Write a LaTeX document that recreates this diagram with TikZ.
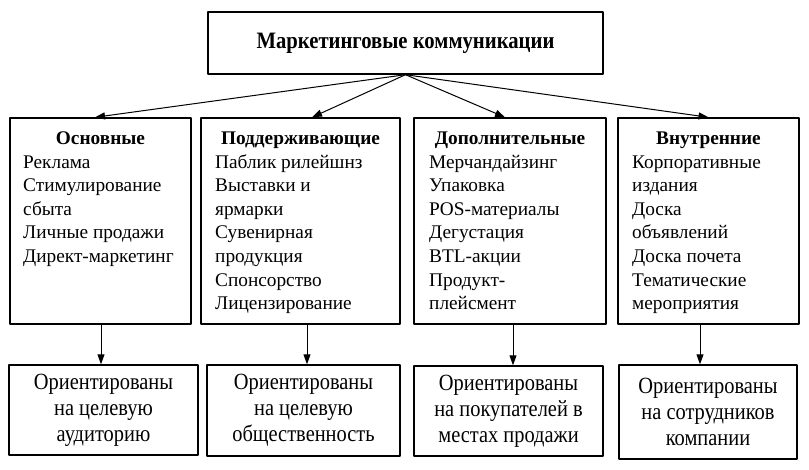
\documentclass[tikz,border=0pt]{standalone}
\usepackage{fontspec}
\setmainfont{Liberation Serif}
\newfontfamily\narrowserif{Liberation Serif}[FakeStretch=0.88]
\usetikzlibrary{arrows.meta}

\tikzset{
	box/.style={draw, line width=1.4pt, inner sep=0pt},
	head/.style={font=\fontsize{19.3}{23}\selectfont\bfseries, anchor=base, inner sep=0pt},
	item/.style={font=\fontsize{19.3}{23}\selectfont, anchor=base west, inner sep=0pt},
	goal/.style={box, align=center, font=\narrowserif\fontsize{23.2}{26}\selectfont},
	arr/.style={-{Triangle[length=10pt,width=7pt]}, line width=1pt},
}

\begin{document}
\begin{tikzpicture}[x=1pt, y=-1pt, line join=round]
	\useasboundingbox (0,0) rectangle (809,469);
	% top
	\node[box, minimum width=395pt, minimum height=62pt,
	      font=\narrowserif\fontsize{23.5}{27}\selectfont\bfseries] (top) at (405.5,43) {Маркетинговые коммуникации};
	% groups
	\node[box, minimum width=181pt, minimum height=206pt] (c1) at (100.5,221) {};
	\node[box, minimum width=199pt, minimum height=206pt] (c2) at (300.5,221) {};
	\node[box, minimum width=192pt, minimum height=206pt] (c3) at (510,221) {};
	\node[box, minimum width=181pt, minimum height=206pt] (c4) at (708.5,221) {};
	\node[head] (h1) at (100.5,144) {Основные};
	\node[head] (h2) at (300.5,144) {Поддерживающие};
	\node[head] (h3) at (510,144) {Дополнительные};
	\node[head] (h4) at (708.5,144) {Внутренние};
	\foreach \txt [count=\i from 0] in {Реклама, Стимулирование, сбыта, Личные продажи, Директ-маркетинг}
		\node[item] (c1l\i) at (23,{168+23.6*\i}) {\txt};
	\foreach \txt [count=\i from 0] in {Паблик рилейшнз, Выставки и, ярмарки, Сувенирная, продукция, Спонсорство, Лицензирование}
		\node[item] (c2l\i) at (215,{168+23.6*\i}) {\txt};
	\foreach \txt [count=\i from 0] in {Мерчандайзинг, Упаковка, POS-материалы, Дегустация, BTL-акции, Продукт-, плейсмент}
		\node[item] (c3l\i) at (429,{168+23.6*\i}) {\txt};
	\foreach \txt [count=\i from 0] in {Корпоративные, издания, Доска, объявлений, Доска почета, Тематические, мероприятия}
		\node[item] (c4l\i) at (632,{168+23.6*\i}) {\txt};
	% targets
	\node[goal, minimum width=189pt, minimum height=90pt] (b1) at (103.5,410) {Ориентированы\\на целевую\\аудиторию};
	\node[goal, minimum width=193pt, minimum height=91pt] (b2) at (303.5,410.5) {Ориентированы\\на целевую\\общественность};
	\node[goal, minimum width=189pt, minimum height=90pt] (b3) at (508.5,411) {Ориентированы\\на покупателей в\\местах продажи};
	\node[goal, minimum width=178pt, minimum height=94pt] (b4) at (708,412) {Ориентированы\\на сотрудников\\компании};
	% arrows
	\draw[arr] (top.south) -- ([xshift=-5.5pt]c1.north);
	\draw[arr] (top.south) -- ([xshift=11.5pt]c2.north);
	\draw[arr] (top.south) -- ([xshift=-5pt]c3.north);
	\draw[arr] (top.south) -- (c4.north);
	\draw[arr] ([xshift=0.5pt]c1.south) -- ([xshift=0.5pt]c1.south |- b1.north);
	\draw[arr] ([xshift=6.5pt]c2.south) -- ([xshift=6.5pt]c2.south |- b2.north);
	\draw[arr] ([xshift=3pt]c3.south) -- ([xshift=3pt]c3.south |- b3.north);
	\draw[arr] ([xshift=-8.5pt]c4.south) -- ([xshift=-8.5pt]c4.south |- b4.north);
\end{tikzpicture}
\end{document}
